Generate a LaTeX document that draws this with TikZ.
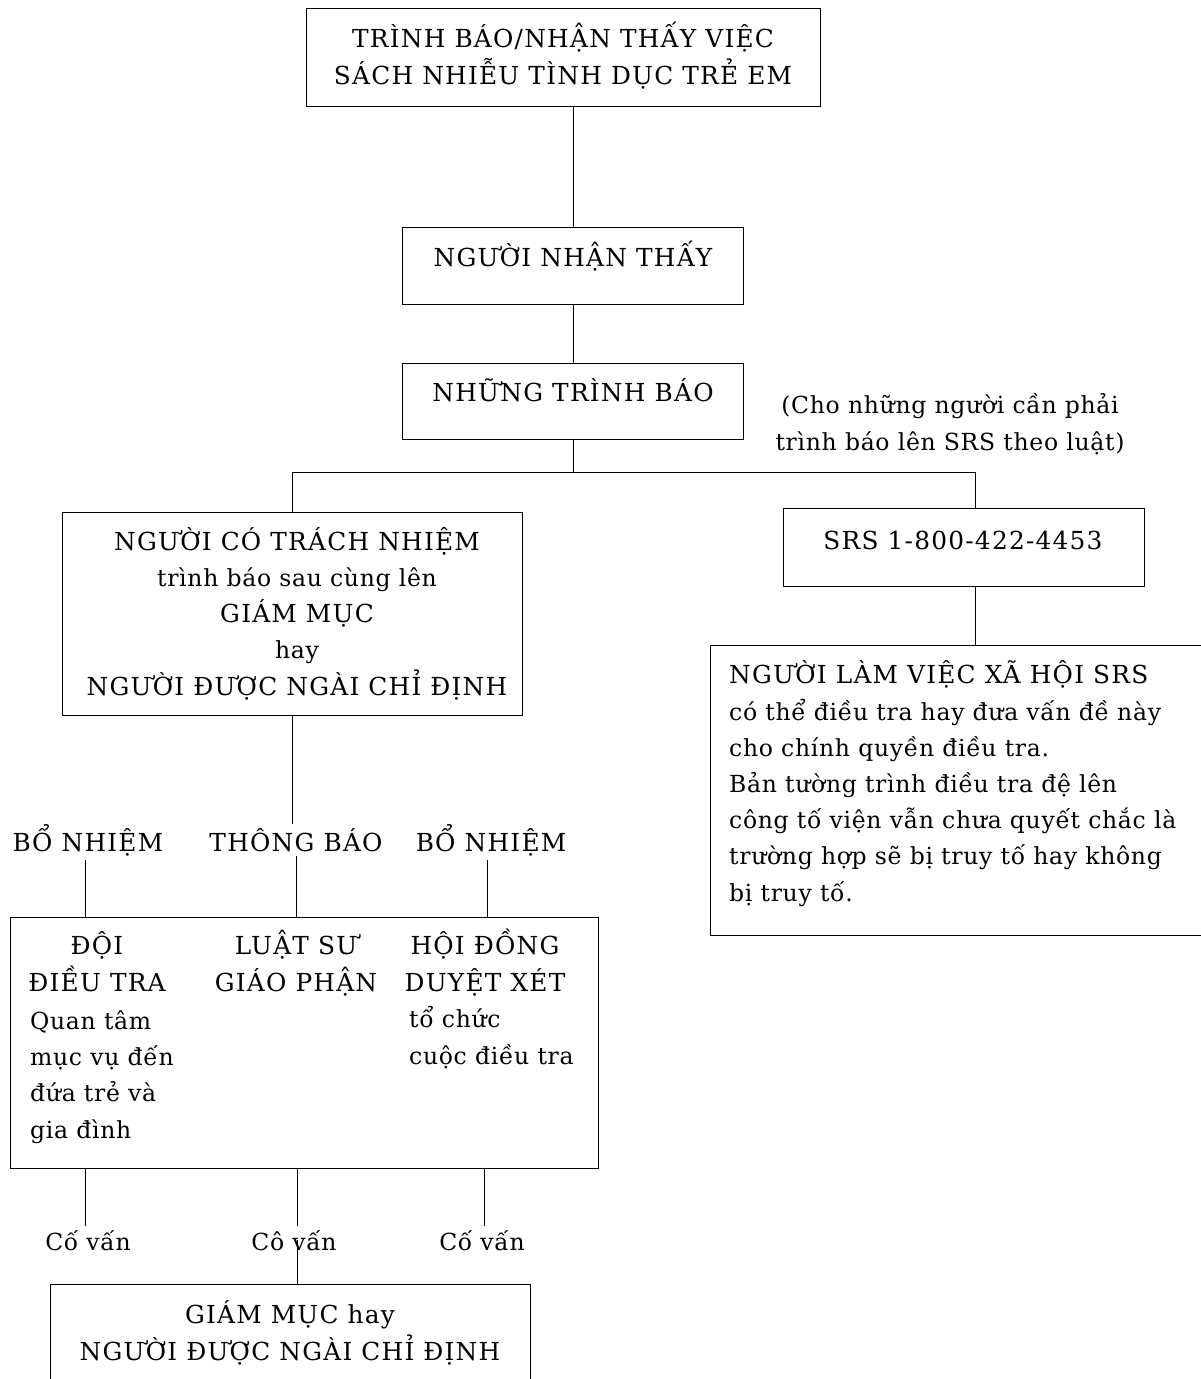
\documentclass[tikz,border=0pt]{standalone}
\usepackage{fontspec}
\setmainfont{DejaVu Serif}
\newfontfamily\capf[LetterSpace=5]{DejaVu Serif}
\newfontfamily\lowf[LetterSpace=3]{DejaVu Serif}
\newcommand\CF{\capf\fontsize{24.8}{36.2}\selectfont}
\newcommand\LF{\lowf\fontsize{23.5}{36.2}\selectfont}
\begin{document}
\begin{tikzpicture}[x=1pt,y=-1pt,
  box/.style={draw,line width=1.2pt,inner sep=0pt,anchor=north west},
  conn/.style={line width=0.9pt},
  txt/.style={inner sep=0pt,anchor=base,align=center},
  ltxt/.style={inner sep=0pt,anchor=base west,align=left},
  lab/.style={inner sep=4pt,anchor=base}]
\useasboundingbox (0,0) rectangle (1201,1379);
% boxes
\node[box,minimum width=514pt,minimum height=98pt] (top) at (306,8) {};
\node[box,minimum width=341pt,minimum height=77pt] (n2) at (402,227) {};
\node[box,minimum width=341pt,minimum height=76pt] (n3) at (402,363) {};
\node[box,minimum width=460pt,minimum height=203pt] (lbox) at (62,512) {};
\node[box,minimum width=361pt,minimum height=78pt] (srs) at (783,508) {};
\node[box,minimum width=510pt,minimum height=290pt] (work) at (710,645) {};
\node[box,minimum width=588pt,minimum height=251pt] (b4) at (10,917) {};
\node[box,minimum width=480pt,minimum height=130pt] (b5) at (50,1284) {};
% texts (anchor = baseline of the last line)
\node[txt,font=\CF] (ttop) at (563,84) {TRÌNH BÁO/NHẬN THẤY VIỆC\\SÁCH NHIỄU TÌNH DỤC TRẺ EM};
\node[txt,font=\CF] (t2) at (573,266) {NGƯỜI NHẬN THẤY};
\node[txt,font=\CF] (t3) at (573,401) {NHỮNG TRÌNH BÁO};
\node[txt,font=\LF] (note) at (950,450) {(Cho những người cần phải\\trình báo lên SRS theo luật)};
\node[txt,font=\CF] (tl) at (297,695) {NGƯỜI CÓ TRÁCH NHIỆM\\{\LF trình báo sau cùng lên}\\GIÁM MỤC\\{\LF hay}\\NGƯỜI ĐƯỢC NGÀI CHỈ ĐỊNH};
\node[txt,font=\CF] (tsrs) at (963,549) {SRS 1-800-422-4453};
\node[ltxt,font=\LF] (tw) at (729,901) {{\CF NGƯỜI LÀM VIỆC XÃ HỘI SRS}\\có thể điều tra hay đưa vấn đề này\\cho chính quyền điều tra.\\Bản tường trình điều tra đệ lên\\công tố viện vẫn chưa quyết chắc là\\trường hợp sẽ bị truy tố hay không\\bị truy tố.};
% labels
\node[lab,font=\CF] (bo1) at (88,851) {BỔ NHIỆM};
\node[lab,font=\CF] (thong) at (296,851) {THÔNG BÁO};
\node[lab,font=\CF] (bo2) at (491,851) {BỔ NHIỆM};
% box4 texts
\node[txt,font=\CF] (c1a) at (97,991) {ĐỘI\\ĐIỀU TRA};
\node[ltxt,font=\LF] (c1b) at (30,1138) {Quan tâm\\mục vụ đến\\đứa trẻ và\\gia đình};
\node[txt,font=\CF] (c2) at (296,991) {LUẬT SƯ\\GIÁO PHẬN};
\node[txt,font=\CF] (c3a) at (485,991) {HỘI ĐỒNG\\DUYỆT XÉT};
\node[ltxt,font=\LF] (c3b) at (409,1064) {tổ chức\\cuộc điều tra};
% co van labels
\node[lab,font=\LF] (cv1) at (88,1250) {Cố vấn};
\node[lab,font=\LF] (cv2) at (294,1250) {Cô vấn};
\node[lab,font=\LF] (cv3) at (482,1250) {Cố vấn};
\node[txt,font=\CF] (t5) at (290,1360) {GIÁM MỤC hay\\NGƯỜI ĐƯỢC NGÀI CHỈ ĐỊNH};
% connectors
\coordinate (jr) at (975,472);
\draw[conn] (n2.north |- top.south) -- (n2.north);
\draw[conn] (n2.south) -- (n3.north);
\draw[conn] (n3.south) -- (n3.south |- jr);
\draw[conn] (lbox.north) |- (jr) -- (jr |- srs.north);
\draw[conn] (jr |- srs.south) -- (jr |- work.north);
\draw[conn] (lbox.south) -- (lbox.south |- thong.north);
\draw[conn] (85,0 |- bo1.south) -- (85,0 |- b4.north);
\draw[conn] (thong.south) -- (thong.south |- b4.north);
\draw[conn] (487,0 |- bo2.south) -- (487,0 |- b4.north);
\draw[conn] (85,0 |- b4.south) -- (85,0 |- cv1.north);
\draw[conn] (297,0 |- b4.south) -- (297,0 |- cv2.north);
\draw[conn] (297,0 |- cv2.center) -- (297,0 |- b5.north);
\draw[conn] (484,0 |- b4.south) -- (484,0 |- cv3.north);
\end{tikzpicture}
\end{document}
